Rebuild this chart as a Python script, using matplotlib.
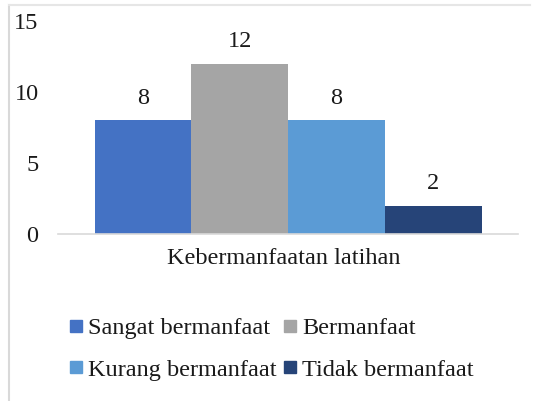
import matplotlib
matplotlib.use("Agg")
import matplotlib.pyplot as plt
from matplotlib.lines import Line2D
from matplotlib.transforms import ScaledTranslation

plt.rcParams['font.family'] = ['Liberation Serif', 'DejaVu Serif']

category = "Kebermanfaatan latihan"
series = ["Sangat bermanfaat", "Bermanfaat", "Kurang bermanfaat", "Tidak bermanfaat"]
values = [8, 12, 8, 2]
colors = ["#4472C4", "#A5A5A5", "#5B9BD5", "#264478"]
yticks = [0, 5, 10, 15]

FS = 17.5
TXT = '#1a1a1a'

fig = plt.figure(figsize=(5.36, 4.01), dpi=100)
ax = fig.add_axes([58/536, 1-234/401, 460/536, 213/401])

w = 387/460/4
for i, (s, v, c) in enumerate(zip(series, values, colors)):
    x = (i - 1.5) * w
    ax.bar(x, v, width=w, color=c, label=s, zorder=2)
    ax.annotate(str(v), (x, v), xytext=(0, 8.5), textcoords='offset points',
                ha='center', va='bottom', fontsize=FS, color=TXT)

ax.set_xlim(-0.5, 0.5)
ax.set_ylim(0, 15)
ax.set_yticks(yticks)
ax.set_xticks([0])
ax.set_xticklabels([category])
ax.tick_params(axis='both', length=0, labelsize=FS, colors=TXT)
ax.tick_params(axis='y', pad=14)
ax.tick_params(axis='x', pad=10)
for lbl in ax.get_xticklabels():
    lbl.set_transform(lbl.get_transform() + ScaledTranslation(-4/100, 0, fig.dpi_scale_trans))
for sp in ['top', 'right', 'left']:
    ax.spines[sp].set_visible(False)
ax.spines['bottom'].set_color('#d9d9d9')
ax.spines['bottom'].set_linewidth(1.2)

handles = [Line2D([], [], marker='s', linestyle='none', markersize=8, color=c) for c in colors]
order = [0, 2, 1, 3]
fig.legend([handles[i] for i in order], [series[i] for i in order], ncol=2,
           loc='center', bbox_to_anchor=(270.5/536, 1-349/401), frameon=False,
           fontsize=FS, handlelength=0.7, handletextpad=0.15, columnspacing=0.2,
           labelspacing=0.8, labelcolor=TXT, borderpad=0, borderaxespad=0)

fig.add_artist(Line2D([8.5/536, 8.5/536], [0, 1-5/401], color='#d9d9d9', lw=1.5, transform=fig.transFigure))
fig.add_artist(Line2D([8.5/536, 530/536], [1-5/401, 1-5/401], color='#e6e6e6', lw=1.5, transform=fig.transFigure))

fig.savefig("out.png", dpi=100)
